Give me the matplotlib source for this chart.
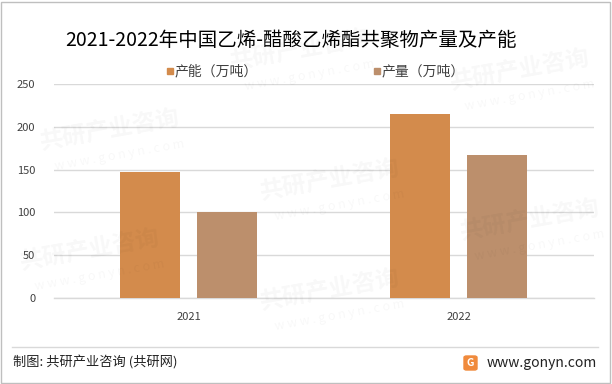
import matplotlib
matplotlib.use("Agg")
import matplotlib.pyplot as plt
import numpy as np
from matplotlib.patches import Rectangle, FancyBboxPatch

plt.rcParams['font.family'] = ['Noto Sans CJK SC', 'DejaVu Sans']

# data
years = ['2021', '2022']
capacity = [147, 215]   # 产能（万吨）
output = [100, 167]     # 产量（万吨）
series_names = ['产能（万吨）', '产量（万吨）']
colors = ['#D38B4C', '#BC8F6C']

fig = plt.figure(figsize=(6.12, 3.84), dpi=100)
W, H = 612, 384

# faint watermarks, kept inside the figure
for wx, wy in [(110, 130), (300, 50), (520, 70), (330, 180), (90, 250), (330, 290), (530, 220)]:
    fig.text(wx / W, 1 - wy / H, '共研产业咨询', fontsize=17, fontweight='bold',
             color='#000000', alpha=0.03, rotation=10, ha='center', va='center')
    fig.text((wx + 10) / W, 1 - (wy + 25) / H, 'w w w . g o n y n . c o m', fontsize=9,
             color='#000000', alpha=0.03, rotation=10, ha='center', va='center')

ax = fig.add_axes([53.5 / W, 1 - 298 / H, 540 / W, 214 / H])
x = np.arange(len(years))
bw = 0.222
off = 0.1426
ax.bar(x - off, capacity, bw, color=colors[0], label=series_names[0], zorder=3)
ax.bar(x + off, output, bw, color=colors[1], label=series_names[1], zorder=3)

ax.set_xlim(-0.5, 1.5)
ax.set_ylim(0, 250)
ax.set_yticks(range(0, 251, 50))
ax.set_xticks(x)
ax.set_xticklabels(years)
ax.yaxis.grid(True, color='#D9D9D9', linewidth=1, zorder=0)
ax.set_facecolor('none')
for s in ['top', 'right', 'left']:
    ax.spines[s].set_visible(False)
ax.spines['bottom'].set_color('#D9D9D9')
ax.spines['bottom'].set_linewidth(1)
ax.tick_params(axis='both', length=0, labelsize=8, colors='#404040')
ax.tick_params(axis='y', pad=13)
ax.tick_params(axis='x', pad=10)

# title
fig.text(291 / W, 1 - 41 / H, '2021-2022年中国乙烯-醋酸乙烯酯共聚物产量及产能',
         fontsize=14, ha='center', va='center', color='#000000')

# legend
for lx, name, c in [(167, series_names[0], colors[0]), (374, series_names[1], colors[1])]:
    fig.patches.append(Rectangle((lx / W, 1 - 74 / H), 6 / W, 6 / H, color=c,
                                 transform=fig.transFigure, figure=fig))
    fig.text((lx + 8) / W, 1 - 71 / H, name, fontsize=10, ha='left', va='center', color='#404040')

# footer
fig.add_artist(plt.Line2D([12 / W, 598 / W], [1 - 347 / H, 1 - 347 / H],
                          color='#D9D9D9', linewidth=1, transform=fig.transFigure))
fig.text(13 / W, 1 - 363 / H, '制图: 共研产业咨询 (共研网)', fontsize=9.5, ha='left', va='center', color='#222222')
fig.patches.append(FancyBboxPatch((464 / W, 1 - 370 / H), 13 / W, 14 / H,
                                  boxstyle='round,pad=0,rounding_size=0.004',
                                  color='#F08A3C', transform=fig.transFigure, figure=fig))
fig.text(470.5 / W, 1 - 363 / H, 'G', fontsize=7.5, fontweight='bold', color='white',
         ha='center', va='center')
fig.text(597 / W, 1 - 363 / H, 'www.gonyn.com', fontsize=10, ha='right', va='center', color='#222222')

# border
fig.patches.append(Rectangle((1 / W, 1 / H), 1 - 3 / W, 1 - 3 / H, fill=False,
                             edgecolor='#BFBFBF', linewidth=1, transform=fig.transFigure, figure=fig))

fig.savefig('out.png', dpi=100)
